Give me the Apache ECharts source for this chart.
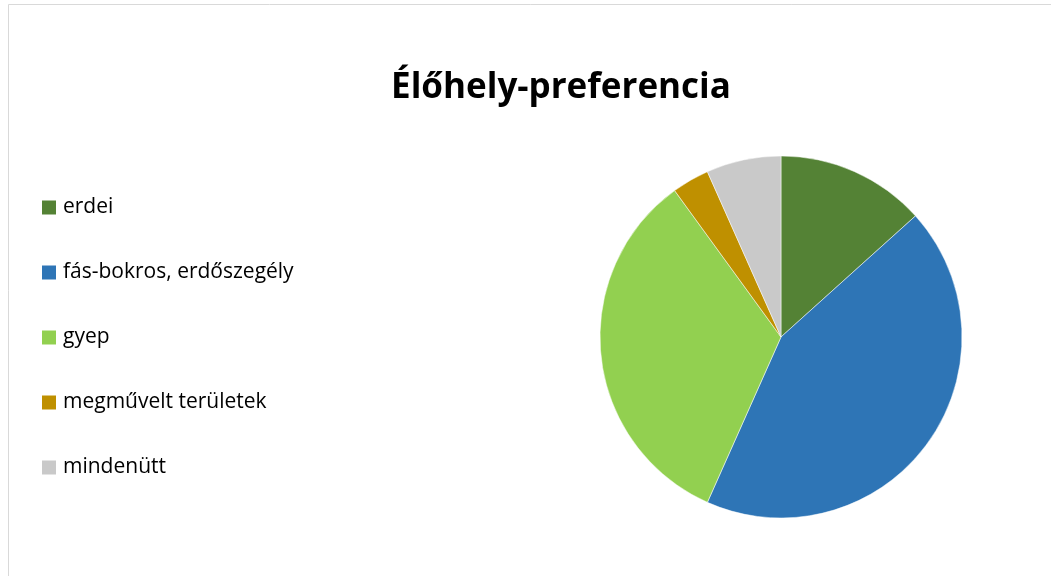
<!DOCTYPE html>
<html><head><meta charset="utf-8">
<script src="https://cdn.jsdelivr.net/npm/echarts@6/dist/echarts.min.js"></script>
<style>html,body{margin:0;padding:0;background:#fff}#c{width:1051px;height:576px}</style>
</head><body><div id="c"></div>
<script>
const categories = ['erdei', 'fás-bokros, erdőszegély', 'gyep', 'megművelt területek', 'mindenütt'];
const values = [4, 13, 10, 1, 2];
const colors = ['#548235', '#2E75B6', '#92D050', '#BF9000', '#C9C9C9'];
const titleText = 'Élőhely-preferencia';

const chart = echarts.init(document.getElementById('c'), null, {renderer: 'canvas'});
chart.setOption({
  backgroundColor: '#fff',
  animation: false,
  title: {
    text: titleText, top: 71, left: 561, textAlign: 'center', padding: 0,
    textStyle: {fontFamily: 'Open Sans', fontWeight: 'bold', fontSize: 35, color: '#000'}
  },
  legend: {
    orient: 'vertical', left: 42, top: 197, itemWidth: 14, itemHeight: 14, itemGap: 44,
    padding: 0,
    icon: 'rect',
    data: categories,
    itemStyle: {borderWidth: 0},
    textStyle: {fontFamily: 'Open Sans', fontSize: 21, color: '#000', padding: [0,0,0,2]}
  },
  graphic: [{type: 'rect', shape: {x: 8.5, y: 4.5, width: 1100, height: 700}, style: {fill: 'none', stroke: '#d9d9d9', lineWidth: 1}, silent: true}],
  series: [{
    type: 'pie', center: [781, 337], radius: 181, startAngle: 90, clockwise: true,
    label: {show: false}, labelLine: {show: false},
    itemStyle: {borderColor: '#fff', borderWidth: 0.5},
    data: categories.map((n, i) => ({name: n, value: values[i], itemStyle: {color: colors[i]}}))
  }]
});
</script></body></html>
